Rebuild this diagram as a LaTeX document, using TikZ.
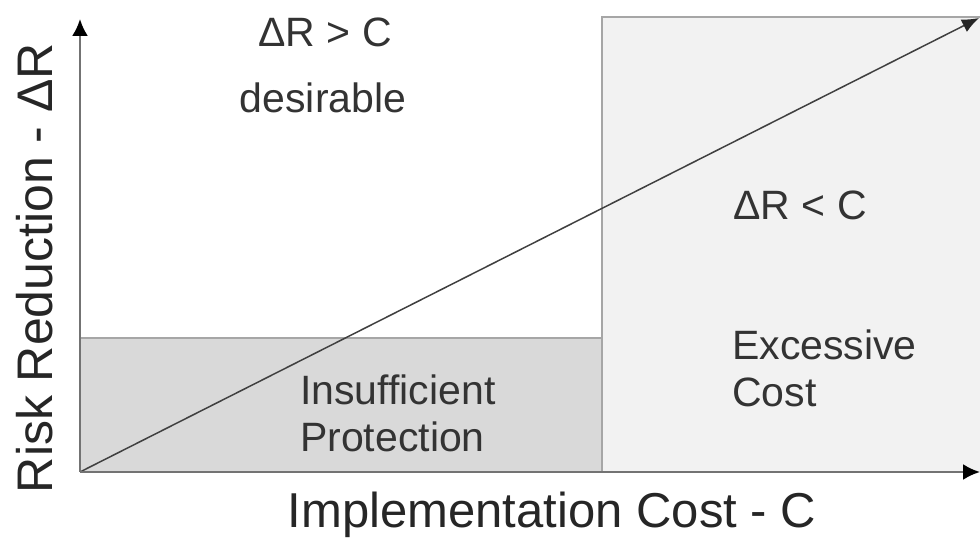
\documentclass[tikz,border=0pt]{standalone}
\usepackage{fontspec}
\setmainfont{Liberation Sans}
\usetikzlibrary{arrows.meta}
\begin{document}
\begin{tikzpicture}[x=1pt,y=1pt,
  axis/.style={draw=black!55,line width=2.4pt,-{Latex[length=17pt,width=16pt,color=black]}},
  diag/.style={draw=black!75,line width=1.5pt,-{Latex[length=17pt,width=14pt,color=black!85]}},
  region/.style={draw=black!35,line width=1.8pt},
  lbl/.style={font=\fontsize{41}{47}\selectfont,text=black!80,inner sep=0pt},
  axlbl/.style={font=\fontsize{49}{56}\selectfont,text=black!85,inner sep=0pt}]
\useasboundingbox (0,0) rectangle (980,540);
% regions
\fill[black!5] (602,68) rectangle (980,523);
\draw[region] (980,523) -- (602,523) -- (602,68);
\fill[black!15] (80,68) rectangle (602,202);
\draw[region] (80,202) -- (602,202) -- (602,68);
% coordinates
\coordinate (O) at (80,68);
\coordinate (ytip) at (80,521);
\coordinate (xtip) at (980,68);
\coordinate (dtip) at (979,522);
% axes and diagonal
\draw[diag] (O) -- (dtip);
\draw[axis] (O) -- (ytip);
\draw[axis] (O) -- (xtip);
% labels
\node[lbl] (gt) at (325,508) {ΔR > C};
\node[lbl] (des) at (323,442) {desirable};
\node[lbl] (lt) at (800,335) {ΔR < C};
\node[lbl,anchor=west,align=left] (exc) at (732,172) {Excessive\\Cost};
\node[lbl,anchor=west,align=left] (ins) at (300,127) {Insufficient\\Protection};
\node[axlbl] (xl) at (552,25) {Implementation Cost - C};
\node[axlbl,rotate=90,font=\fontsize{50}{56}\selectfont] (yl) at (35,272) {Risk Reduction - ΔR};
\end{tikzpicture}
\end{document}
